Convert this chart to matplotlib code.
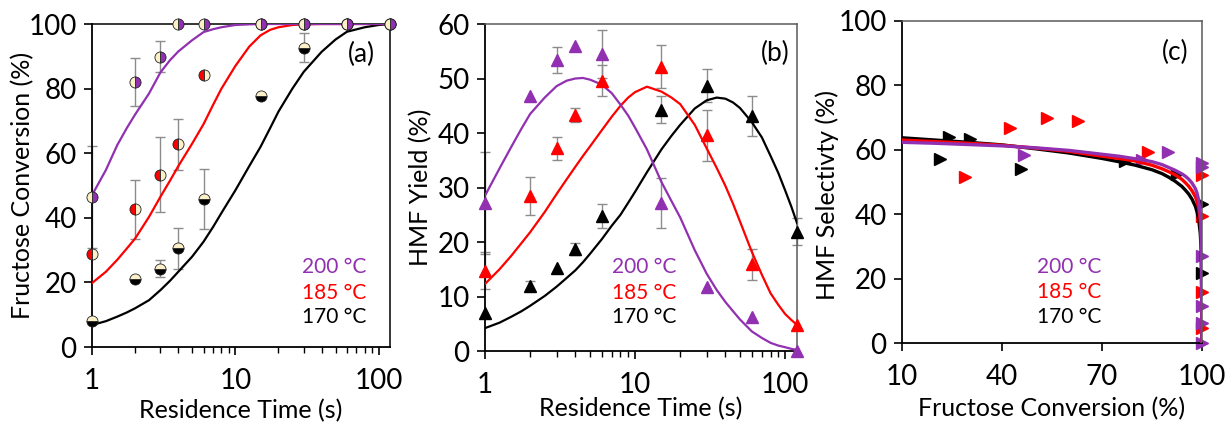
import numpy as np
import matplotlib
matplotlib.use('Agg')
import matplotlib.pyplot as plt
from matplotlib.ticker import NullFormatter, LogLocator

plt.rcParams['font.family'] = ['Lato', 'DejaVu Sans']

PURPLE = '#9130b0'
RED = '#ff0000'
BLACK = '#000000'
CREAM = '#fbf0c8'
FRAME = '#5a5a5a'

# residence times of the experiments (s)
t = [1, 2, 3, 4, 6, 15, 30, 60, 120]

# (a) fructose conversion (%) with error bars
conv200 = [46.5, 82.1, 89.9, 100, 100, 100, 100, 100, 100]
conv185 = [28.7, 42.6, 53.4, 62.8, 84.1, 100, 100, 100, 100]
conv170 = [8.0, 21.2, 24.3, 30.5, 45.7, 77.7, 92.7, 100, 100]
conv200_err = [15.7, 7.4, 4.8, 0, 0, 0, 0, 0, 0]
conv185_err = [0, 9.1, 11.5, 7.9, 0, 0, 0, 0, 0]
conv170_err = [0, 0, 2.5, 6.2, 9.3, 0, 4.6, 0, 0]

# (a) model curves
t_fit_a = [1, 1.25, 1.5, 1.75, 2, 2.5, 3, 3.5, 4, 5, 6, 7, 8, 10, 12.5, 15, 17.5, 20, 25, 30, 40, 50, 60, 80, 100, 120]
fit_a200 = [47, 54.8, 62.5, 67.8, 72, 78.5, 85, 88.8, 91.5, 95, 97.5, 98.4, 99, 99.7, 99.9, 100, 100, 100, 100, 100, 100, 100, 100, 100, 100, 100]
fit_a185 = [19.8, 23.3, 27, 30.5, 33.6, 40.3, 46.5, 51.5, 56, 63, 69, 75, 80, 87, 93, 96.5, 98.2, 99, 99.7, 99.9, 100, 100, 100, 100, 100, 100]
fit_a170 = [6.8, 8.0, 9.4, 10.7, 12, 14.5, 17.6, 20.5, 23.3, 28, 32.6, 37.2, 41.5, 48.5, 56, 62, 67.8, 72.9, 80, 85.2, 91.4, 95.2, 97.6, 99, 99.7, 100]

# (b) HMF yield (%) with error bars
yield200 = [27.2, 46.7, 53.4, 56.0, 54.5, 27.1, 11.7, 6.2, 0]
yield185 = [14.7, 28.4, 37.2, 43.3, 49.6, 52.2, 39.6, 15.9, 4.8]
yield170 = [6.9, 12.0, 15.3, 18.8, 24.8, 44.3, 48.7, 43.1, 21.9]
yield200_err = [9.4, 0, 2.4, 0, 4.4, 4.6, 0, 0, 0]
yield185_err = [3.4, 3.5, 2.1, 1.2, 2.8, 3.9, 4.7, 2.8, 0]
yield170_err = [0, 0.9, 0, 1.1, 2.2, 2.4, 3.0, 3.6, 2.5]

# (b) model curves
t_fit_b = [1, 1.25, 1.5, 1.75, 2, 2.5, 3, 3.5, 4, 4.5, 5, 6, 7, 8, 9, 10, 12, 15, 17.5, 20, 25, 30, 35, 40, 45, 50,
           60, 70, 80, 90, 100, 110, 120]
fit_b200 = [28.5, 33.5, 37.5, 40.8, 43.5, 46.5, 48.6, 49.6, 50.0, 50.1, 49.8, 48.9, 47.3, 45.2, 43.2, 41.0, 37.0, 31.0,
            27.5, 24.5, 18.5, 14.2, 11.2, 9.0, 7.3, 5.8, 3.6, 2.4, 1.5, 1.0, 0.7, 0.4, 0.2]
fit_b185 = [12.3, 15.0, 17.5, 19.8, 21.8, 25.5, 28.8, 31.5, 33.8, 35.8, 37.5, 40.5, 43.0, 45.0, 46.5, 47.5, 48.5, 47.6,
            46.5, 45.3, 41.5, 37.2, 33.6, 30.3, 27.0, 23.8, 18.2, 14.0, 10.6, 8.5, 6.8, 5.7, 4.8]
fit_b170 = [4.2, 5.2, 6.3, 7.3, 8.3, 10.1, 11.8, 13.4, 14.8, 16.3, 17.8, 20.5, 23.0, 25.0, 27.2, 29.2, 32.8, 37.0,
            39.5, 41.5, 44.5, 46.0, 46.5, 46.3, 45.6, 44.6, 42.0, 39.2, 35.8, 32.7, 29.5, 26.5, 23.5]

# (c) HMF selectivity (%) vs fructose conversion (%)
sel_conv200 = [46.5, 82.1, 89.9, 100, 100, 100, 100, 100, 100]
sel200 = [58.5, 56.9, 59.4, 56.0, 54.5, 27.1, 11.7, 6.2, 0]
sel_conv185 = [28.9, 42.4, 53.4, 62.7, 83.9, 100, 100, 100, 100]
sel185 = [51.4, 66.8, 69.7, 69.0, 59.2, 52.2, 39.6, 15.9, 4.8]
sel_conv170 = [21.4, 24.2, 30.4, 45.7, 76.9, 92.4, 100, 100]
sel170 = [57.1, 63.8, 63.3, 54.0, 56.5, 52.5, 43.1, 21.9]

# (c) model curves
x_fit_c = [10, 20, 30, 40, 50, 60, 70, 75, 80, 85, 88, 90, 92, 94, 95, 96, 97, 98, 98.5, 99, 99.5, 99.8, 100]
fit_c200 = [62.3, 62.0, 61.6, 61.2, 60.6, 59.8, 58.6, 58.0, 57.2, 56.3, 55.4, 54.5, 53.6, 52.5, 51.8, 50.9, 49.7, 48.0,
            46.6, 44.5, 40.0, 34.0, 0]
fit_c185 = [63.0, 62.5, 62.0, 61.4, 60.5, 59.5, 58.0, 57.3, 56.5, 55.2, 54.1, 53.2, 52.2, 50.8, 49.8, 48.7, 47.3, 45.5,
            44.0, 42.0, 38.0, 32.0, 0]
fit_c170 = [63.7, 63.0, 62.3, 61.5, 60.3, 59.0, 57.3, 56.3, 55.2, 53.8, 52.6, 51.5, 50.2, 48.6, 47.5, 46.3, 44.7, 42.5,
            40.8, 38.5, 34.0, 28.0, 0]

TICK_FS = 20
LABEL_FS = 18
TEMP_FS = 15
PANEL_FS = 19


def errbars(ax, x, y, err):
    x = np.array(x, dtype=float)
    y = np.array(y, dtype=float)
    err = np.array(err, dtype=float)
    m = err > 0
    ax.errorbar(x[m], y[m], yerr=err[m], fmt='none', ecolor='#8c8c8c',
                elinewidth=1.0, capsize=3.5, capthick=1.0, zorder=2, clip_on=False)


def style_axes(ax, frame):
    for side in ['left', 'bottom']:
        ax.spines[side].set_color('black')
        ax.spines[side].set_linewidth(1.3)
    for side in ['top', 'right']:
        ax.spines[side].set_color(frame)
        ax.spines[side].set_linewidth(1.1)
    ax.tick_params(which='major', direction='out', length=6, width=1.2, labelsize=TICK_FS)
    ax.tick_params(which='minor', direction='out', length=4, width=1.0)
    ax.tick_params(axis='y', pad=5)
    ax.tick_params(axis='x', which='both', pad=9)
    ax.tick_params(top=False, right=False)


def temps(ax, x, ys):
    ax.text(x, ys[0], '200 °C', color=PURPLE, fontsize=TEMP_FS, transform=ax.transAxes, va='center')
    ax.text(x, ys[1], '185 °C', color=RED, fontsize=TEMP_FS, transform=ax.transAxes, va='center')
    ax.text(x, ys[2], '170 °C', color=BLACK, fontsize=TEMP_FS, transform=ax.transAxes, va='center')


fig = plt.figure(figsize=(12.25, 4.22), dpi=100)
ax1 = fig.add_axes([0.0751, 0.1777, 0.2433, 0.7654])
ax2 = fig.add_axes([0.3959, 0.1682, 0.2547, 0.7749])
ax3 = fig.add_axes([0.7363, 0.1865, 0.2449, 0.7645])

# Plot (a): conversion vs residence time
ax1.plot(t_fit_a, fit_a170, color=BLACK, lw=1.6, zorder=3)
ax1.plot(t_fit_a, fit_a185, color=RED, lw=1.6, zorder=3)
ax1.plot(t_fit_a, fit_a200, color=PURPLE, lw=1.6, zorder=3)
errbars(ax1, t, conv200, conv200_err)
errbars(ax1, t, conv185, conv185_err)
errbars(ax1, t, conv170, conv170_err)
ax1.plot(t, conv170, 'o', ms=8, fillstyle='bottom', mfc=BLACK, mfcalt=CREAM,
         mec='#222222', mew=0.6, ls='none', zorder=4, clip_on=False)
ax1.plot(t, conv185, 'o', ms=8, fillstyle='left', mfc=RED, mfcalt=CREAM,
         mec='#222222', mew=0.6, ls='none', zorder=4, clip_on=False)
ax1.plot(t, conv200, 'o', ms=8, fillstyle='right', mfc=PURPLE, mfcalt=CREAM,
         mec='#222222', mew=0.6, ls='none', zorder=4, clip_on=False)
ax1.set_xscale('log')
ax1.set_xlim(1, 120)
ax1.set_ylim(0, 100)
ax1.set_yticks([0, 20, 40, 60, 80, 100])
ax1.set_xticks([1, 10, 100], ['1', '10', '100'])
ax1.xaxis.set_minor_locator(LogLocator(base=10, subs=np.arange(2, 10)))
ax1.xaxis.set_minor_formatter(NullFormatter())
ax1.set_xlabel('Residence Time (s)', fontsize=LABEL_FS)
ax1.set_ylabel('Fructose Conversion (%)', fontsize=LABEL_FS)
ax1.yaxis.set_label_coords(-0.195, 0.5)
ax1.xaxis.set_label_coords(0.5, -0.16)
style_axes(ax1, 'black')
ax1.text(0.905, 0.905, '(a)', fontsize=PANEL_FS, transform=ax1.transAxes, ha='center', va='center')
temps(ax1, 0.705, [0.248, 0.167, 0.093])

# Plot (b): HMF yield vs residence time
ax2.plot(t_fit_b, fit_b170, color=BLACK, lw=1.6, zorder=3)
ax2.plot(t_fit_b, fit_b185, color=RED, lw=1.6, zorder=3)
ax2.plot(t_fit_b, fit_b200, color=PURPLE, lw=1.6, zorder=3)
errbars(ax2, t, yield200, yield200_err)
errbars(ax2, t, yield185, yield185_err)
errbars(ax2, t, yield170, yield170_err)
ax2.plot(t, yield170, '^', ms=8, color=BLACK, ls='none', zorder=4, clip_on=False)
ax2.plot(t, yield185, '^', ms=8, color=RED, ls='none', zorder=4, clip_on=False)
ax2.plot(t, yield200, '^', ms=8, color=PURPLE, ls='none', zorder=4, clip_on=False)
ax2.set_xscale('log')
ax2.set_xlim(1, 120)
ax2.set_ylim(0, 60)
ax2.set_yticks([0, 10, 20, 30, 40, 50, 60])
ax2.set_xticks([1, 10, 100], ['1', '10', '100'])
ax2.xaxis.set_minor_locator(LogLocator(base=10, subs=np.arange(2, 10)))
ax2.xaxis.set_minor_formatter(NullFormatter())
ax2.set_xlabel('Residence Time (s)', fontsize=LABEL_FS)
ax2.set_ylabel('HMF Yield (%)', fontsize=LABEL_FS)
ax2.yaxis.set_label_coords(-0.17, 0.5)
ax2.xaxis.set_label_coords(0.5, -0.14)
style_axes(ax2, FRAME)
ax2.text(0.93, 0.91, '(b)', fontsize=PANEL_FS, transform=ax2.transAxes, ha='center', va='center')
temps(ax2, 0.408, [0.258, 0.177, 0.105])

# Plot (c): selectivity vs conversion
ax3.plot(sel_conv170, sel170, '>', ms=8, color=BLACK, ls='none', zorder=2, clip_on=False)
ax3.plot(sel_conv185, sel185, '>', ms=8, color=RED, ls='none', zorder=2, clip_on=False)
ax3.plot(sel_conv200, sel200, '>', ms=8, color=PURPLE, ls='none', zorder=2, clip_on=False)
ax3.plot(x_fit_c, fit_c170, color=BLACK, lw=2.4, zorder=3)
ax3.plot(x_fit_c, fit_c185, color=RED, lw=2.4, zorder=3)
ax3.plot(x_fit_c, fit_c200, color=PURPLE, lw=2.4, zorder=3)
ax3.set_xlim(10, 100)
ax3.set_ylim(0, 100)
ax3.set_xticks([10, 40, 70, 100])
ax3.set_yticks([0, 20, 40, 60, 80, 100])
ax3.set_xlabel('Fructose Conversion (%)', fontsize=LABEL_FS)
ax3.set_ylabel('HMF Selectivty (%)', fontsize=LABEL_FS)
ax3.yaxis.set_label_coords(-0.21, 0.46)
ax3.xaxis.set_label_coords(0.5, -0.165)
style_axes(ax3, FRAME)
ax3.text(0.91, 0.9, '(c)', fontsize=PANEL_FS, transform=ax3.transAxes, ha='center', va='center')
temps(ax3, 0.449, [0.237, 0.16, 0.082])

fig.savefig('out.png', dpi=100)
